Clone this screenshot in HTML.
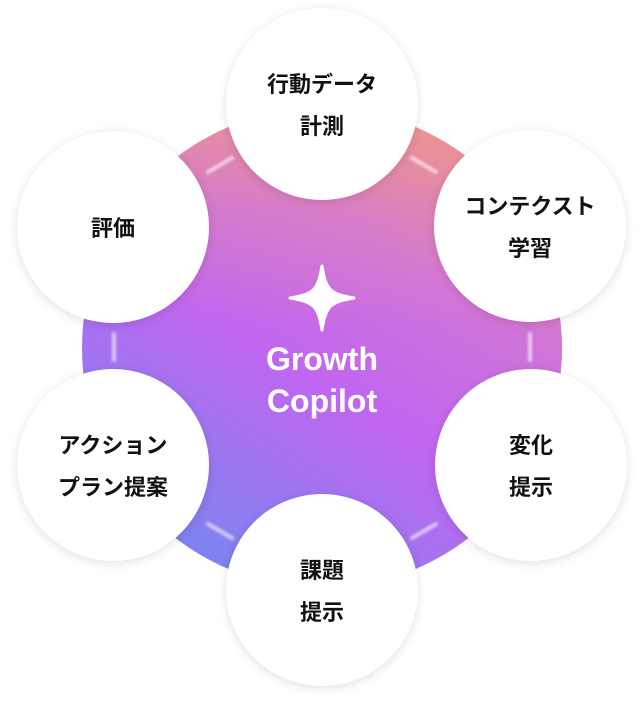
<!DOCTYPE html>
<html><head><meta charset="utf-8"><style>
html,body{margin:0;padding:0;background:#fff;}
body{width:644px;height:708px;position:relative;overflow:hidden;font-family:"Liberation Sans","Noto Sans CJK JP",sans-serif;}
.big{position:absolute;left:82px;top:108px;width:480px;height:480px;border-radius:50%;
background:linear-gradient(180deg,rgba(240,150,140,0.75) 0%,rgba(230,140,170,0.35) 22%,rgba(200,110,230,0) 45%),
linear-gradient(32deg,#5f8cf0 0%,#8f7cf0 22%,#c066f0 45%,#d074d8 68%,#f0a070 100%);}
.s{position:absolute;width:192px;height:192px;border-radius:50%;background:#fff;
box-shadow:0 2px 10px rgba(0,0,0,0.12);display:flex;align-items:center;justify-content:center;text-align:center;
font-weight:bold;font-size:22px;line-height:42px;color:#111;padding-top:4px;box-sizing:border-box;}
.t{position:absolute;left:0;width:644px;text-align:center;color:#fff;font-weight:bold;font-size:32px;line-height:42px;}
</style></head><body>
<div class="big"></div>
<svg style="position:absolute;left:0;top:0" width="644" height="708">
<defs><filter id="b"><feGaussianBlur stdDeviation="1.2"/></filter></defs>
<g stroke="rgba(255,255,255,0.6)" stroke-width="4" stroke-linecap="round" fill="none" filter="url(#b)">
<line x1="208" y1="172" x2="232" y2="158"/>
<line x1="412" y1="158" x2="436" y2="172"/>
<line x1="530" y1="334" x2="530" y2="360"/>
<line x1="412" y1="538" x2="436" y2="524"/>
<line x1="208" y1="524" x2="232" y2="538"/>
<line x1="114" y1="334" x2="114" y2="360"/>
</g>
<path d="M322 266 C326 290 330 294 354 298 C330 302 326 306 322 330 C318 306 314 302 290 298 C314 294 318 290 322 266Z" fill="#fff" stroke="#fff" stroke-width="3" stroke-linejoin="round"/>
</svg>
<div class="t" style="top:338px">Growth</div>
<div class="t" style="top:380px">Copilot</div>
<div class="s" style="left:226px;top:8px">行動データ<br>計測</div>
<div class="s" style="left:434px;top:130px">コンテクスト<br>学習</div>
<div class="s" style="left:435px;top:369px">変化<br>提示</div>
<div class="s" style="left:226px;top:494px">課題<br>提示</div>
<div class="s" style="left:17px;top:369px">アクション<br>プラン提案</div>
<div class="s" style="left:17px;top:131px">評価</div>
</body></html>
